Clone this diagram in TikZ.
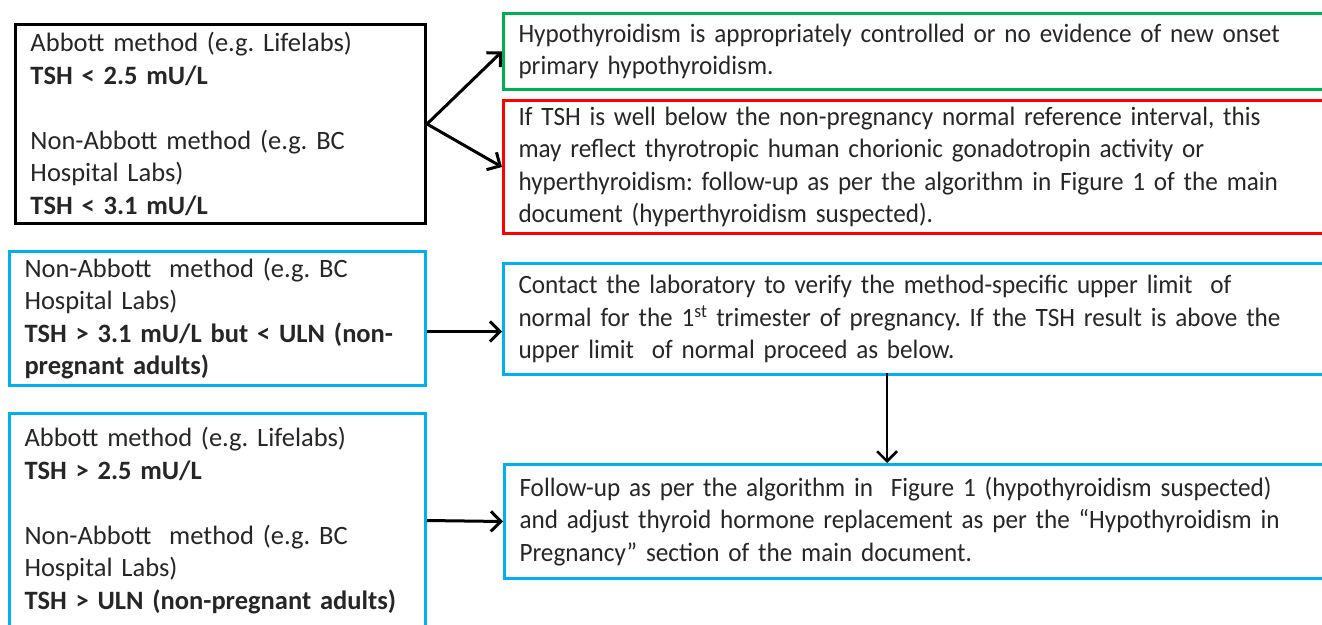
\documentclass[tikz,border=0pt]{standalone}
\usepackage{fontspec}
\setmainfont{Carlito}
\newfontfamily\estreita[FakeStretch=0.95]{Carlito}
\usepackage{xcolor}
\usetikzlibrary{arrows.meta}
\definecolor{verde}{HTML}{00B050}
\definecolor{vermelho}{HTML}{FF0000}
\definecolor{azul}{HTML}{00B0F0}
\frenchspacing
\begin{document}
\begin{tikzpicture}[
    x=1pt, y=-1pt,
    caixa/.style={
    draw,
    anchor=north west,
    align=left,
    inner xsep=15pt,
    inner ysep=0pt,
    line width=3pt,
    text=black!85,
    font=\fontsize{26.5}{32.5}\selectfont
    },
    esq/.style={caixa, text width=386pt, minimum width=416pt},
    dir/.style={caixa, text width=900pt, minimum width=930pt,
      font=\estreita\fontsize{26.5}{32.5}\selectfont},
    seta/.style={-{Straight Barb[length=10pt,width=20pt]}, line width=3pt}
    ]

    \useasboundingbox (0,0) rectangle (1322,624);
    \clip (0,0) rectangle (1322,624);

    % caixas da esquerda
    \node[esq, minimum height=199pt, text width=380pt, minimum width=410pt] (baixo) at (14,23)
    {Abbott method (e.g. Lifelabs)\\
     \textbf{TSH < 2.5 mU/L}\\[32.5pt]
     Non-Abbott method (e.g. BC\\
     Hospital Labs)\\
     \textbf{TSH < 3.1 mU/L}};

    \node[esq, azul, text=black!85, minimum height=134pt] (medio) at (8,250)
    {Non-Abbott\ \ method (e.g. BC\\
     Hospital Labs)\\
     \textbf{TSH > 3.1 mU/L but < ULN (non-}\\
     \textbf{pregnant adults)}};

    \node[esq, azul, text=black!85, minimum height=214pt] (alto) at (8,412)
    {Abbott method (e.g. Lifelabs)\\
     \textbf{TSH > 2.5 mU/L}\\[32.5pt]
     Non-Abbott\ \ method (e.g. BC\\
     Hospital Labs)\\
     \textbf{TSH > ULN (non-pregnant adults)}};

    % caixas da direita
    \node[dir, verde, text=black!85, minimum height=76pt] (normal) at (502,12)
    {Hypothyroidism is appropriately controlled or no evidence of new onset\\
     primary hypothyroidism.};

    \node[dir, vermelho, text=black!85, minimum height=133pt] (hiper) at (502,99)
    {If TSH is well below the non-pregnancy normal reference interval, this\\
     may reflect thyrotropic human chorionic gonadotropin activity or\\
     hyperthyroidism: follow-up as per the algorithm in Figure 1 of the main\\
     document (hyperthyroidism suspected).};

    \node[dir, azul, text=black!85, minimum height=111pt] (contato) at (502,262)
    {Contact the laboratory to verify the method-specific upper limit\ \ of\\
     normal for the 1\textsuperscript{st} trimester of pregnancy. If the TSH result is above the\\
     upper limit\ \ of normal proceed as below.};

    \node[dir, azul, text=black!85, minimum height=114pt] (seguir) at (503,463)
    {Follow-up as per the algorithm in\ \ Figure 1 (hypothyroidism suspected)\\
     and adjust thyroid hormone replacement as per the \textquotedblleft Hypothyroidism in\\
     Pregnancy\textquotedblright\ section of the main document.};

    \draw[seta] (baixo.east) -- (normal.west);
    \draw[seta] (baixo.east) -- (hiper.west);
    \draw[seta] ([yshift=-13pt]medio.east) -- ([yshift=-13pt]medio.east -| contato.west);
    \draw[seta, line width=2.5pt] (887,373) ++(0,0) coordinate (vtopo)
      (vtopo) -- (vtopo |- seguir.north);
    \draw[seta] (alto.east) -- (seguir.west);

    \end{tikzpicture}
\end{document}
